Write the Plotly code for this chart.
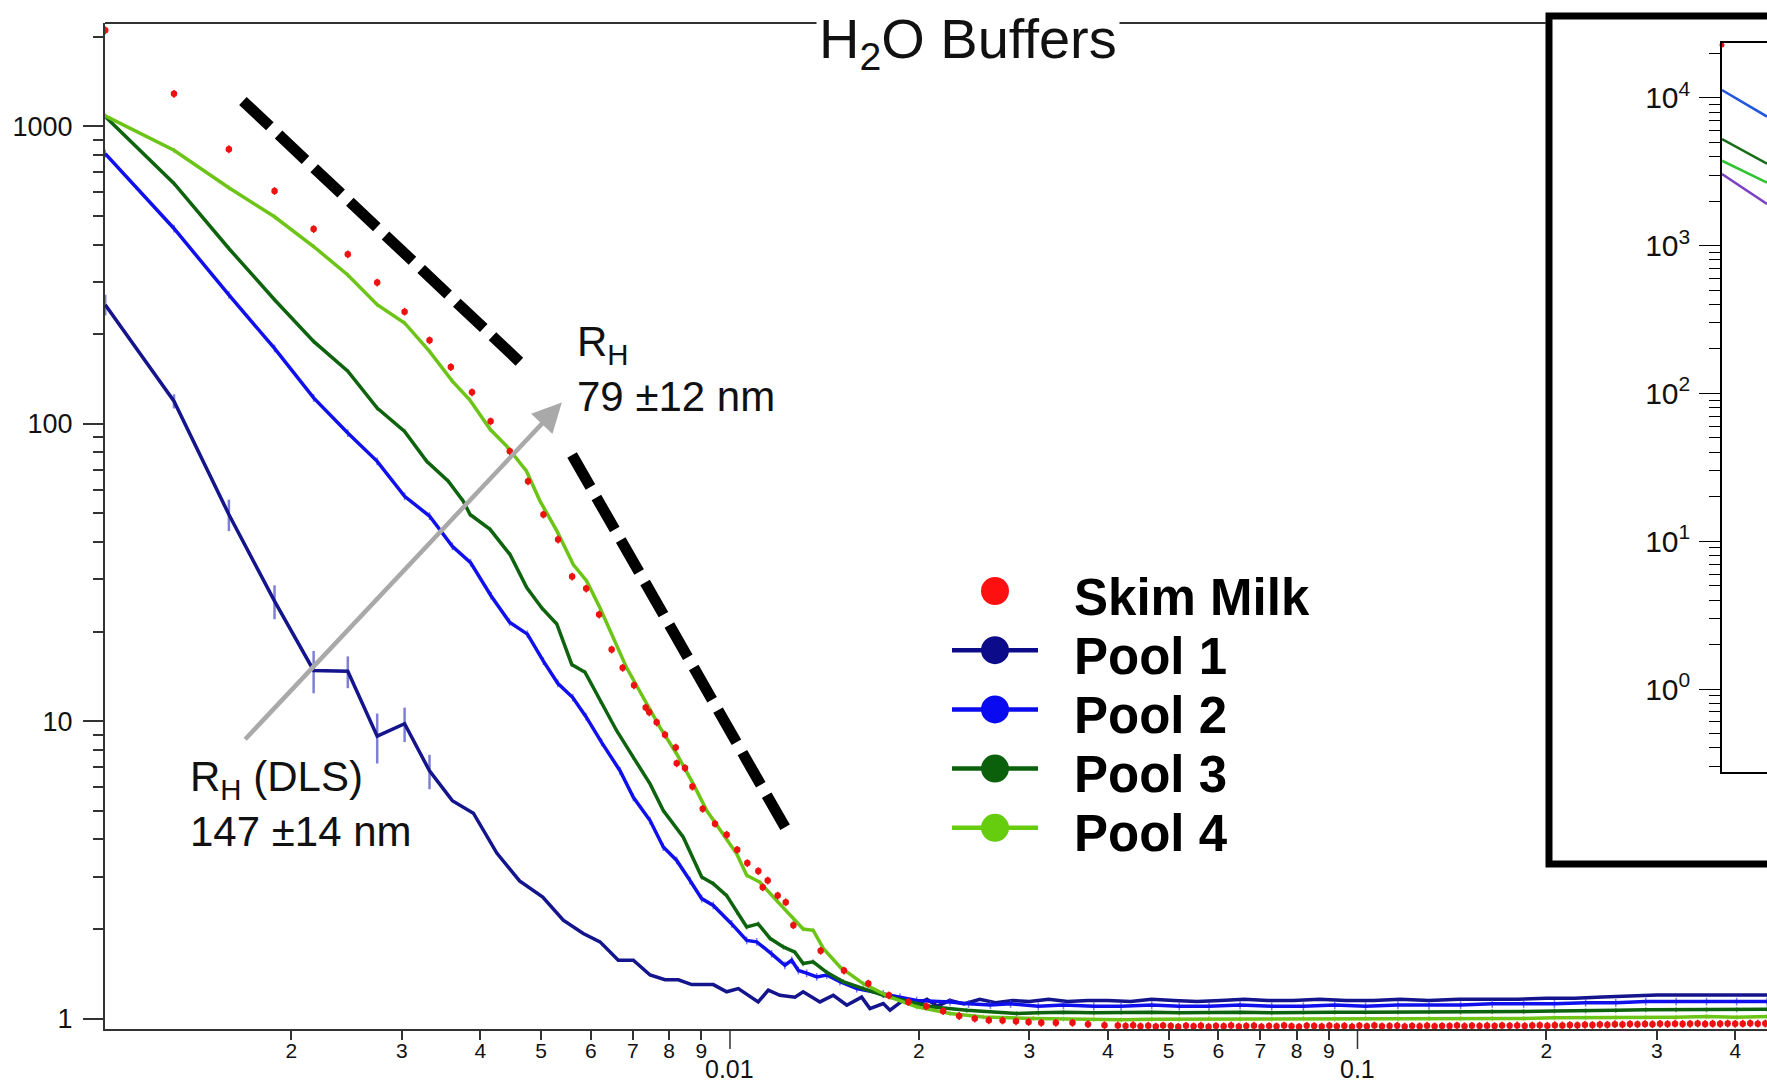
import math
import plotly.graph_objects as go

# ------------------------------------------------------------------
# DATA  (scattering vector q, intensity I)
# ------------------------------------------------------------------
pool1_q = [0.00101, 0.00130, 0.00159, 0.00188, 0.00217, 0.00246, 0.00274, 0.00303, 0.00332, 0.00361,
           0.00390, 0.00425, 0.00462, 0.00503, 0.005424, 0.005836, 0.006207, 0.006637, 0.007014, 0.007458,
           0.007878, 0.008273, 0.008689, 0.009406, 0.009879, 0.01031, 0.01109, 0.01151, 0.01201, 0.01269,
           0.01308, 0.01391, 0.01461, 0.01535, 0.01621, 0.01671, 0.01755, 0.01799, 0.01889,
           0.0197, 0.0206, 0.0214, 0.0224, 0.0236, 0.0250, 0.0265, 0.0282, 0.0300, 0.0322,
           0.0345, 0.0372, 0.0400, 0.0435, 0.0470, 0.0510, 0.0555, 0.0605, 0.0660, 0.0720,
           0.0790, 0.0870, 0.0960, 0.106, 0.117, 0.130, 0.145, 0.162, 0.180, 0.200,
           0.222, 0.246, 0.272, 0.300, 0.330, 0.362, 0.398, 0.4494]
pool1_I = [251, 119, 49.5, 25.3, 14.8, 14.7, 8.9, 9.8, 6.8, 5.4,
           4.9, 3.6, 2.9, 2.56, 2.14, 1.93, 1.81, 1.57, 1.57, 1.40,
           1.35, 1.35, 1.30, 1.30, 1.23, 1.26, 1.137, 1.245, 1.197, 1.18,
           1.23, 1.137, 1.197, 1.108, 1.18, 1.08, 1.123, 1.066, 1.152,
           1.11, 1.16, 1.10, 1.15, 1.12, 1.16, 1.13, 1.15, 1.14, 1.16,
           1.14, 1.15, 1.15, 1.14, 1.16, 1.15, 1.14, 1.15, 1.16, 1.15,
           1.15, 1.16, 1.15, 1.15, 1.16, 1.15, 1.16, 1.16, 1.16, 1.17,
           1.17, 1.18, 1.19, 1.20, 1.20, 1.20, 1.20, 1.20]
pool1_err_low = [20, 6.5, 6.0, 3.3, 2.4, 1.8, 1.7, 1.3, 0.9]   # first nine points

pool2_q = [0.00101, 0.00130, 0.00159, 0.00188, 0.00217, 0.00246, 0.00274, 0.00303, 0.00332, 0.00361,
           0.00386, 0.004160, 0.004453, 0.004755, 0.005042, 0.005315, 0.005616, 0.005895, 0.006243, 0.006679,
           0.007014, 0.007458, 0.007829, 0.008224, 0.008635, 0.009013, 0.009406, 0.010063, 0.010632, 0.01103,
           0.01165, 0.01223, 0.01254, 0.01285, 0.01325, 0.01375, 0.01426, 0.01497, 0.01592, 0.01755,
           0.01866, 0.01984, 0.02242,
           0.024, 0.026, 0.028, 0.031, 0.034, 0.038, 0.042, 0.047, 0.052, 0.058,
           0.065, 0.073, 0.082, 0.092, 0.103, 0.116, 0.130, 0.146, 0.164, 0.184,
           0.206, 0.231, 0.258, 0.288, 0.322, 0.360, 0.402, 0.4494]
pool2_I = [809, 453, 271, 179, 122, 93, 74.7, 57, 48.9, 38.7,
           34.1, 26.4, 21.5, 19.6, 15.9, 13.4, 12.0, 10.35, 8.48, 6.81,
           5.54, 4.63, 3.77, 3.40, 2.91, 2.53, 2.40, 2.08, 1.83, 1.81,
           1.65, 1.51, 1.57, 1.45, 1.42, 1.38, 1.40, 1.33, 1.26, 1.21,
           1.18, 1.15, 1.137,
           1.12, 1.11, 1.12, 1.10, 1.11, 1.10, 1.10, 1.11, 1.10, 1.10,
           1.11, 1.10, 1.10, 1.11, 1.10, 1.11, 1.11, 1.11, 1.12, 1.12,
           1.12, 1.13, 1.13, 1.14, 1.14, 1.14, 1.14, 1.14]

pool3_q = [0.00101, 0.00130, 0.00159, 0.00188, 0.00217, 0.00246, 0.00274, 0.00303, 0.003286, 0.003557,
           0.003758, 0.003853, 0.004146, 0.004461, 0.004743, 0.005012, 0.005296, 0.005595, 0.005874, 0.006207,
           0.006598, 0.007014, 0.007458, 0.007829, 0.008425, 0.009013, 0.009406, 0.009879, 0.010249, 0.010632,
           0.01109, 0.01158, 0.01216, 0.01269, 0.01308, 0.01357, 0.01426, 0.01515, 0.01631, 0.01755,
           0.01936, 0.02109, 0.02384, 0.02863,
           0.031, 0.034, 0.038, 0.042, 0.047, 0.052, 0.058, 0.065, 0.073, 0.082,
           0.092, 0.103, 0.116, 0.130, 0.146, 0.164, 0.184, 0.206, 0.231, 0.258,
           0.288, 0.322, 0.360, 0.402, 0.4494]
pool3_I = [1078, 642, 388, 261, 189, 150, 112.8, 94.2, 74.7, 64,
           54.9, 49.5, 44.1, 36.3, 28.1, 24.0, 21.2, 15.5, 14.6, 11.7,
           9.28, 7.55, 6.15, 5.0, 4.07, 2.99, 2.84, 2.59, 2.28, 2.03,
           2.08, 1.86, 1.74, 1.67, 1.53, 1.55, 1.43, 1.33, 1.26, 1.197,
           1.137, 1.094, 1.066, 1.039,
           1.045, 1.05, 1.045, 1.05, 1.05, 1.045, 1.05, 1.05, 1.045, 1.05,
           1.05, 1.05, 1.05, 1.055, 1.05, 1.055, 1.055, 1.06, 1.06, 1.065,
           1.07, 1.07, 1.07, 1.07, 1.075]

pool4_q = [0.00101, 0.00130, 0.00159, 0.00188, 0.00217, 0.00246, 0.00274, 0.00303, 0.00332, 0.00361,
           0.00385, 0.00415, 0.00441, 0.00474, 0.004981, 0.00530, 0.005627, 0.005909, 0.006207, 0.006517,
           0.006844, 0.007274, 0.007734, 0.008224, 0.008740, 0.009181, 0.009756, 0.010249, 0.010632, 0.011163,
           0.011870, 0.012617, 0.013078, 0.013569, 0.014083, 0.014971, 0.016298, 0.017989, 0.019841, 0.022418,
           0.025334, 0.030431,
           0.034, 0.038, 0.042, 0.047, 0.052, 0.058, 0.065, 0.073, 0.082, 0.092,
           0.103, 0.116, 0.130, 0.146, 0.164, 0.184, 0.206, 0.231, 0.258, 0.288,
           0.322, 0.360, 0.402, 0.4494]
pool4_I = [1084, 830, 621, 496, 394, 316, 251, 218, 175, 139,
           120, 95.5, 83.9, 69.2, 54.9, 43.5, 33.6, 29.6, 24.0, 19.1,
           15.1, 12.0, 9.52, 7.75, 6.15, 5.0, 4.18, 3.58, 3.03, 2.87,
           2.49, 2.17, 2.00, 1.98, 1.72, 1.49, 1.31, 1.18, 1.094, 1.039,
           1.012, 1.0,
           0.995, 0.995, 0.99, 0.995, 0.995, 1.0, 0.995, 0.995, 1.0, 0.995,
           1.0, 0.995, 1.0, 1.0, 1.0, 1.0, 1.005, 1.005, 1.01, 1.01,
           1.01, 1.015, 1.01, 1.015]

skim_q_low = [0.00101, 0.00130, 0.00159, 0.00188, 0.00217, 0.00246, 0.00274, 0.00303, 0.00332, 0.00359,
              0.00388, 0.004154, 0.004457, 0.004766, 0.005043, 0.005321, 0.005603, 0.005900, 0.006186, 0.006477,
              0.006745, 0.007031, 0.007339, 0.007436, 0.007641, 0.007878, 0.008194, 0.008224, 0.008478, 0.008713,
              0.009047, 0.009465, 0.009879, 0.010268, 0.010656, 0.011095, 0.011275, 0.011483, 0.011912, 0.012270,
              0.012617, 0.013947, 0.015193, 0.016612, 0.017922, 0.019234, 0.02055, 0.02186, 0.02319, 0.02455,
              0.02585, 0.02719, 0.02856, 0.02991, 0.03134, 0.03306, 0.03514, 0.03720, 0.03952]
skim_I_low = [2100, 1286, 837, 606, 451, 371, 298, 238, 190.6, 154.9,
              127.4, 101.8, 80.7, 64.0, 49.5, 40.8, 30.6, 27.9, 22.8, 17.4,
              15.1, 13.2, 11.1, 10.7, 9.9, 9.0, 8.15, 7.21, 6.95, 6.02,
              5.07, 4.52, 4.15, 3.69, 3.33, 3.13, 2.76, 2.91, 2.59, 2.46,
              2.06, 1.69, 1.45, 1.31, 1.197, 1.137, 1.10, 1.06, 1.02, 1.00,
              0.987, 0.985, 0.978, 0.974, 0.967, 0.967, 0.967, 0.957, 0.950]
skim_q_high = [0.0415, 0.0427, 0.0439, 0.0451, 0.0464, 0.0477, 0.0490, 0.0504, 0.0518, 0.0533,
               0.0548, 0.0563, 0.0579, 0.0595, 0.0612, 0.0629, 0.0647, 0.0665, 0.0684, 0.0703,
               0.0723, 0.0743, 0.0764, 0.0785, 0.0807, 0.0830, 0.0853, 0.0877, 0.0902, 0.0927,
               0.0953, 0.0980, 0.1007, 0.1035, 0.1064, 0.1094, 0.1125, 0.1157, 0.1189, 0.1222,
               0.1256, 0.1291, 0.1327, 0.1364, 0.1402, 0.1441, 0.1481, 0.1522, 0.1565, 0.1609,
               0.1654, 0.1700, 0.1748, 0.1797, 0.1847, 0.1899, 0.1952, 0.2007, 0.2063, 0.2121,
               0.2180, 0.2241, 0.2304, 0.2368, 0.2434, 0.2502, 0.2572, 0.2644, 0.2718, 0.2794,
               0.2872, 0.2952, 0.3035, 0.3120, 0.3207, 0.3297, 0.3389, 0.3484, 0.3581, 0.3681,
               0.3784, 0.3890, 0.3999, 0.4111, 0.4226, 0.4344, 0.4466]
skim_I_high = [0.948, 0.944, 0.950, 0.942, 0.946, 0.940, 0.947, 0.943, 0.938, 0.945,
               0.941, 0.946, 0.939, 0.944, 0.942, 0.948, 0.940, 0.943, 0.946, 0.939,
               0.944, 0.941, 0.947, 0.942, 0.938, 0.945, 0.943, 0.940, 0.946, 0.942,
               0.944, 0.939, 0.945, 0.942, 0.947, 0.941, 0.943, 0.945, 0.940, 0.944,
               0.942, 0.946, 0.941, 0.944, 0.943, 0.947, 0.942, 0.945, 0.944, 0.946,
               0.943, 0.947, 0.945, 0.948, 0.944, 0.947, 0.949, 0.946, 0.950, 0.948,
               0.951, 0.949, 0.953, 0.951, 0.955, 0.953, 0.957, 0.955, 0.958, 0.956,
               0.959, 0.957, 0.960, 0.958, 0.961, 0.959, 0.960, 0.962, 0.959, 0.961,
               0.960, 0.962, 0.960, 0.961, 0.963, 0.961, 0.962]

# power-law guide lines (dashed) and the DLS -> SAXS arrow, in data units
guide1_q = [0.001674, 0.00470]
guide1_I = [1216, 156]
guide2_q = [0.005602, 0.012313]
guide2_I = [78.5, 4.30]
arrow_tail = (0.0016795, 8.59)
arrow_head = (0.005395, 117.7)

# inset (cropped) panel
inset_q = [0.0010, 0.0012]
inset_blue_I = [11290, 7470]
inset_dkgreen_I = [5262, 3587]
inset_green_I = [3752, 2673]
inset_purple_I = [3051, 1912]
inset_red_q = [0.0010]
inset_red_I = [22750]

# axis ticks
x_tick_vals = [0.002, 0.003, 0.004, 0.005, 0.006, 0.007, 0.008, 0.009,
               0.02, 0.03, 0.04, 0.05, 0.06, 0.07, 0.08, 0.09,
               0.2, 0.3, 0.4]
x_tick_text = ["2", "3", "4", "5", "6", "7", "8", "9",
               "2", "3", "4", "5", "6", "7", "8", "9",
               "2", "3", "4"]
x_decades = [0.01, 0.1]
x_decade_text = ["0.01", "0.1"]
y_tick_vals = [1, 10, 100, 1000]
y_tick_text = ["1", "10", "100", "1000"]
inset_y_vals = [1, 10, 100, 1000, 10000]
inset_y_text = ["10<sup>0</sup>", "10<sup>1</sup>", "10<sup>2</sup>", "10<sup>3</sup>", "10<sup>4</sup>"]

legend_names = ["Skim Milk", "Pool 1", "Pool 2", "Pool 3", "Pool 4"]

# ------------------------------------------------------------------
# STYLE / GEOMETRY
# ------------------------------------------------------------------
FONT = "Liberation Sans, Arial, Helvetica, sans-serif"
W, H = 1767, 1083
ML, MR, MT, MB = 105, 0, 23, 54
PW, PH = W - ML - MR, H - MT - MB
X_RANGE = [math.log10(0.0010092), math.log10(0.4494)]
Y_RANGE = [-0.0353, 3.347]
AX = "#333333"

C_RED = "#ee1111"
C_P1 = "#14148c"
C_P2 = "#1010ee"
C_P3 = "#0e640e"
C_P4 = "#6cc417"
legend_colors = ["#ff1010", "#0c0c8a", "#0a0af0", "#0b610b", "#66cc0e"]


def xp(px):
    return (px - ML) / PW


def yp(py):
    return (H - MB - py) / PH


fig = go.Figure()

pool1_err = pool1_err_low + [0] * (len(pool1_q) - len(pool1_err_low))

fig.add_trace(go.Scatter(x=pool1_q, y=pool1_I, mode="lines", line=dict(color=C_P1, width=3.5),
                         error_y=dict(type="data", array=pool1_err, visible=True,
                                      color="rgba(95,95,205,0.8)", thickness=2.5, width=0)))
fig.add_trace(go.Scatter(x=pool2_q, y=pool2_I, mode="lines", line=dict(color=C_P2, width=3.5),
                         error_y=dict(type="percent", value=3, visible=True,
                                      color="rgba(70,70,240,0.7)", thickness=1.5, width=0)))
fig.add_trace(go.Scatter(x=pool3_q, y=pool3_I, mode="lines", line=dict(color=C_P3, width=3.5),
                         error_y=dict(type="percent", value=2, visible=True,
                                      color="rgba(40,120,40,0.6)", thickness=1.5, width=0)))
fig.add_trace(go.Scatter(x=pool4_q, y=pool4_I, mode="lines", line=dict(color=C_P4, width=3.5),
                         error_y=dict(type="percent", value=2, visible=True,
                                      color="rgba(120,200,40,0.6)", thickness=1.5, width=0)))
fig.add_trace(go.Scatter(x=skim_q_low + skim_q_high, y=skim_I_low + skim_I_high, mode="markers",
                         marker=dict(color=C_RED, size=6.5, line=dict(width=0)),
                         error_y=dict(type="percent", value=3, visible=True,
                                      color=C_RED, thickness=1.5, width=0)))

for gq, gI in ((guide1_q, guide1_I), (guide2_q, guide2_I)):
    fig.add_trace(go.Scatter(x=gq, y=gI, mode="lines",
                             line=dict(color="black", width=11, dash="37px,12px")))

# inset traces
for iy, col in ((inset_blue_I, "#2457e0"), (inset_dkgreen_I, "#176d17"),
                (inset_green_I, "#2fc42f"), (inset_purple_I, "#7b3fc4")):
    fig.add_trace(go.Scatter(x=inset_q, y=iy, mode="lines", line=dict(color=col, width=2.5),
                             xaxis="x2", yaxis="y2"))
fig.add_trace(go.Scatter(x=inset_red_q, y=inset_red_I, mode="markers",
                         marker=dict(color=C_RED, size=5), xaxis="x2", yaxis="y2",
                         cliponaxis=False))

# ------------------------------------------------------------------
# shapes
# ------------------------------------------------------------------
shapes = []
shapes.append(dict(type="rect", xref="paper", yref="paper",
                   x0=xp(1549), x1=xp(1800), y0=yp(864), y1=yp(16),
                   line=dict(color="black", width=7), fillcolor="white", layer="below"))
shapes.append(dict(type="line", xref="paper", yref="paper",
                   x0=0, x1=xp(1546), y0=1, y1=1, line=dict(color=AX, width=2), layer="below"))
for dv in x_decades:
    shapes.append(dict(type="line", xref="x", yref="paper", x0=dv, x1=dv,
                       y0=0, y1=yp(1049), line=dict(color=AX, width=1.5)))

LEG_X, LEG_Y0, LEG_DY = 995, 591, 59.2
for i, col in enumerate(legend_colors):
    cy = LEG_Y0 + i * LEG_DY
    if i > 0:
        shapes.append(dict(type="line", xref="paper", yref="paper",
                           x0=xp(LEG_X - 43), x1=xp(LEG_X + 43), y0=yp(cy), y1=yp(cy),
                           line=dict(color=col, width=4.5)))
    r = 14
    shapes.append(dict(type="circle", xref="paper", yref="paper",
                       x0=xp(LEG_X - r), x1=xp(LEG_X + r), y0=yp(cy + r), y1=yp(cy - r),
                       fillcolor=col, line=dict(width=0)))

# ------------------------------------------------------------------
# annotations
# ------------------------------------------------------------------
ann = []
ann.append(dict(text="H<sub>2</sub>O Buffers", xref="paper", yref="paper",
                x=xp(968), y=yp(4), xanchor="center", yanchor="top", showarrow=False,
                font=dict(size=56, color="#111", family=FONT), bgcolor="white", borderpad=2))
ann.append(dict(text="R<sub>H</sub><br>79 ±12 nm", xref="paper", yref="paper",
                x=xp(575), y=yp(316), xanchor="left", yanchor="top", align="left",
                showarrow=False, font=dict(size=42, color="#111", family=FONT)))
ann.append(dict(text="R<sub>H</sub> (DLS)<br>147 ±14 nm", xref="paper", yref="paper",
                x=xp(188), y=yp(751), xanchor="left", yanchor="top", align="left",
                showarrow=False, font=dict(size=42, color="#111", family=FONT)))
for dv, dt in zip(x_decades, x_decade_text):
    ann.append(dict(text=dt, xref="x", yref="paper", x=math.log10(dv), y=yp(1053),
                    xanchor="center", yanchor="top", showarrow=False,
                    font=dict(size=25, color="#111", family=FONT)))
for i, name in enumerate(legend_names):
    cy = LEG_Y0 + i * LEG_DY
    ann.append(dict(text="<b>" + name + "</b>", xref="paper", yref="paper",
                    x=xp(1072), y=yp(cy + 6), xanchor="left", yanchor="middle",
                    showarrow=False, font=dict(size=51, color="black", family=FONT)))
ann.append(dict(text="", xref="x", yref="y", axref="x", ayref="y",
                x=math.log10(arrow_head[0]), y=math.log10(arrow_head[1]),
                ax=math.log10(arrow_tail[0]), ay=math.log10(arrow_tail[1]),
                showarrow=True, arrowhead=2, arrowsize=1.3, arrowwidth=4.5,
                arrowcolor="#a9a9a9"))

fig.update_layout(
    width=W, height=H,
    margin=dict(l=ML, r=MR, t=MT, b=MB, pad=0),
    paper_bgcolor="white", plot_bgcolor="rgba(0,0,0,0)",
    showlegend=False,
    font=dict(family=FONT, color="#111"),
    xaxis=dict(type="log", domain=[0, 1], range=X_RANGE, anchor="y",
               showline=True, linecolor=AX, linewidth=2, mirror=False,
               ticks="outside", ticklen=9, tickwidth=1.5, tickcolor=AX,
               tickmode="array", tickvals=x_tick_vals, ticktext=x_tick_text,
               tickfont=dict(size=21, color="#111", family=FONT), ticklabelstandoff=-7,
               showgrid=False, zeroline=False),
    yaxis=dict(type="log", domain=[0, 1], range=Y_RANGE, anchor="x",
               showline=True, linecolor=AX, linewidth=2, mirror=False,
               ticks="outside", ticklen=20, tickwidth=1.5, tickcolor=AX,
               tickmode="array", tickvals=y_tick_vals, ticktext=y_tick_text,
               tickfont=dict(size=27, color="#111", family=FONT), ticklabelstandoff=5,
               minor=dict(ticks="outside", ticklen=10, tickwidth=1.5, tickcolor=AX,
                          dtick="D1", showgrid=False),
               showgrid=False, zeroline=False),
    xaxis2=dict(type="log", domain=[xp(1722), 1], anchor="y2",
                range=[math.log10(inset_q[0]), math.log10(inset_q[-1])],
                showline=True, linecolor="black", linewidth=1.5, mirror=True,
                ticks="", showticklabels=False, showgrid=False, zeroline=False),
    yaxis2=dict(type="log", domain=[yp(772), yp(43)], anchor="x2",
                range=[-0.5616, 4.371],
                showline=True, linecolor="black", linewidth=1.5,
                ticks="outside", ticklen=21, tickwidth=1.2, tickcolor="black",
                tickmode="array", tickvals=inset_y_vals, ticktext=inset_y_text,
                tickfont=dict(size=30, color="#111", family=FONT), ticklabelstandoff=3,
                minor=dict(ticks="outside", ticklen=11, tickwidth=1.2, tickcolor="black",
                           dtick="D1", showgrid=False),
                showgrid=False, zeroline=False),
    shapes=shapes,
    annotations=ann,
)

fig.write_html("out.html", config={"displayModeBar": False},
               post_script="document.body.style.margin='0px';")
